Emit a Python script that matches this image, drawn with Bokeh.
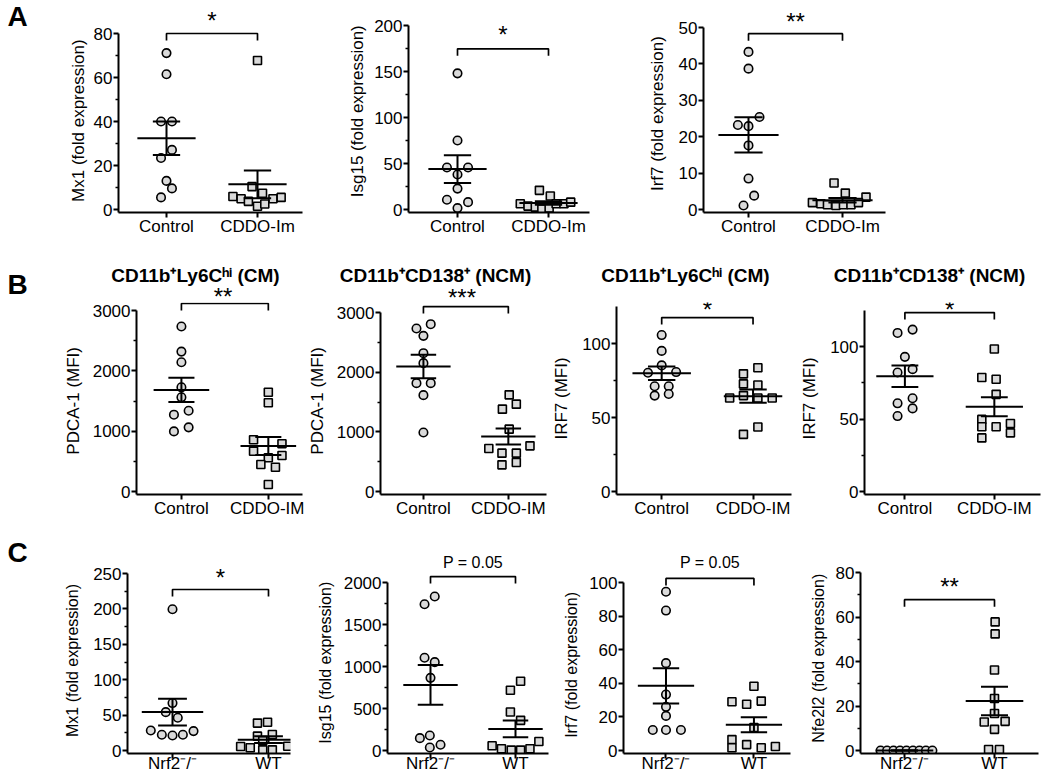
import numpy as np
from bokeh.plotting import figure
from bokeh.models import Range1d, FixedTicker, Label
from bokeh.layouts import column, row
from bokeh.embed import file_html
from bokeh.resources import INLINE

# ---------------- data ----------------
a_groups = ["Control", "CDDO-Im"]
b_groups = ["Control", "CDDO-IM"]
c_groups = ["Nrf2\u207b/\u207b", "WT"]

a_ylabels = ["Mx1 (fold expression)", "Isg15 (fold expression)", "Irf7 (fold expression)"]
b_ylabels = ["PDCA-1 (MFI)", "PDCA-1 (MFI)", "IRF7 (MFI)", "IRF7 (MFI)"]
c_ylabels = ["Mx1 (fold expression)", "Isg15 (fold expression)", "Irf7 (fold expression)",
             "Nfe2l2 (fold expression)"]
b_titles = ["CD11b\u207aLy6C\u02b0\u2071 (CM)", "CD11b\u207aCD138\u207a (NCM)",
            "CD11b\u207aLy6C\u02b0\u2071 (CM)", "CD11b\u207aCD138\u207a (NCM)"]
panel_letters = ["A", "B", "C"]

a_sig = ["*", "*", "**"]
b_sig = ["**", "***", "*", "*"]
c_sig = ["*", "P = 0.05", "P = 0.05", "**"]

# Panel A
a1_ctrl = [71.1, 61.5, 40.0, 40.0, 27.1, 23.4, 13.0, 9.6, 5.5]
a1_ctrl_dx = [0, 0, -0.06, 0.06, 0.06, -0.06, 0, 0.06, -0.06]
a1_trt = [67.7, 10.4, 7.4, 5.9, 4.9, 3.7, 4.9, 5.5, 1.5, 2.5]
a1_trt_dx = [0, -0.06, 0.055, -0.27, -0.18, -0.10, 0.17, 0.26, 0, 0.08]

a2_ctrl = [148, 75, 45.7, 45.7, 38, 22.7, 10.6, 8, 1.5]
a2_ctrl_dx = [0, 0, -0.116, 0.116, 0, 0, -0.116, 0.116, 0]
a2_trt = [20.8, 14.6, 6.2, 3.7, 2.6, 0.7, 1.5, 6.2, 6.2, 8.0]
a2_trt_dx = [-0.10, 0.02, -0.31, -0.225, -0.145, -0.073, 0.007, 0.084, 0.17, 0.244]

a3_ctrl = [43.3, 38.7, 25.4, 23.2, 22.9, 17.6, 8.5, 3.8, 1.1]
a3_ctrl_dx = [0, 0, 0.117, -0.113, 0, 0, 0, 0.06, -0.053]
a3_trt = [7.3, 4.5, 3.4, 1.9, 1.6, 1.3, 1.1, 1.3, 1.3, 1.9]
a3_trt_dx = [-0.09, 0.03, 0.25, -0.32, -0.23, -0.16, -0.07, 0.01, 0.09, 0.17]

# Panel B
b1_ctrl = [2734, 2319, 2142, 1727, 1561, 1273, 1339, 996, 1063]
b1_ctrl_dx = [0, 0, 0, 0, 0, -0.086, 0.083, -0.086, 0.083]
b1_trt = [1646, 1471, 857, 791, 668, 559, 597, 448, 403, 116]
b1_trt_dx = [0, 0, -0.17, 0.157, -0.17, 0, 0.157, -0.086, 0.082, 0]

b2_ctrl = [2804, 2732, 2609, 2318, 2151, 1816, 1816, 1615, 989]
b2_ctrl_dx = [0.086, -0.082, 0, 0, 0, -0.082, 0.086, 0, 0]
b2_trt = [1620, 1380, 1464, 1045, 721, 643, 643, 447, 486, 765]
b2_trt_dx = [0.01, -0.07, 0.094, 0.01, -0.23, -0.075, 0.094, -0.075, 0.094, 0.255]

b3_ctrl = [105.7, 95.0, 85.2, 80.2, 80.7, 71.1, 71.1, 64.8, 65.9]
b3_ctrl_dx = [0, 0, 0, -0.15, 0.158, -0.077, 0.077, -0.077, 0.077]
b3_trt = [83.6, 79.5, 72.7, 72.0, 63.2, 64.8, 63.2, 63.2, 43.6, 38.6]
b3_trt_dx = [0.053, -0.105, -0.105, 0.053, -0.256, -0.105, 0.053, 0.21, 0.053, -0.105]

b4_ctrl = [109.5, 111.8, 93.0, 82.2, 84.5, 60.9, 64.4, 52.1, 57.4]
b4_ctrl_dx = [-0.082, 0.086, 0, -0.082, 0.086, -0.082, 0.086, -0.082, 0.086]
b4_trt = [98.4, 78.7, 77.5, 67.1, 49.8, 44.7, 44.7, 47.0, 40.5, 37.0]
b4_trt_dx = [0, -0.14, 0.02, 0.02, -0.14, -0.14, 0.02, 0.18, 0.18, -0.14]

# Panel C
c1_ko = [199.5, 67, 54.2, 46.2, 28.3, 22.2, 21.2, 22.2, 27.4]
c1_ko_dx = [0, 0, -0.07, 0.055, -0.226, -0.111, 0, 0.108, 0.219]
c1_wt = [38.7, 40, 20.3, 22.6, 14, 5.7, 3.8, 0.9, 0.9, 6]
c1_wt_dx = [-0.115, -0.01, -0.115, 0.04, -0.06, -0.29, -0.19, -0.06, 0.04, 0.2]

c2_ko = [1833, 1741, 1104, 1052, 865, 147, 179, 36, 68]
c2_ko_dx = [0.05, -0.07, -0.07, 0.05, 0, -0.125, -0.008, -0.008, 0.118]
c2_wt = [825, 717, 458, 359, 56, 20, 5, 5, 20, 108]
c2_wt_dx = [0.06, -0.06, -0.06, 0.06, -0.275, -0.165, -0.05, 0.06, 0.17, 0.275]

c3_ko = [94.5, 83.3, 52.0, 33.3, 26.0, 20.6, 12.2, 12.2, 12.2]
c3_ko_dx = [0, 0, 0, 0, 0, 0, -0.15, 0, 0.17]
c3_wt = [38.2, 29.0, 27.5, 29.4, 13.7, 6.5, 1.6, 3.5, 1.6, 2.4]
c3_wt_dx = [0, -0.25, -0.083, 0.083, 0, -0.25, -0.25, -0.083, 0.083, 0.244]

c4_ko = [0, 0, 0, 0, 0, 0, 0, 0, 0]
c4_ko_dx = [-0.266, -0.194, -0.122, -0.05, 0.022, 0.094, 0.166, 0.238, 0.31]
c4_wt = [57.8, 52.4, 36.2, 23.4, 16.6, 12.8, 13.1, 9.5, 0.45, 0.45]
c4_wt_dx = [0.007, 0.007, 0, 0, 0, -0.114, 0.118, 0, -0.066, 0.055]

# y ticks
a1_ticks, a1_minor = [0, 20, 40, 60, 80], [10, 30, 50, 70]
a2_ticks, a2_minor = [0, 50, 100, 150, 200], [25, 75, 125, 175]
a3_ticks, a3_minor = [0, 10, 20, 30, 40, 50], []
b12_ticks, b12_minor = [0, 1000, 2000, 3000], [500, 1500, 2500]
b34_ticks, b34_minor = [0, 50, 100], [25, 75]
c1_ticks, c1_minor = [0, 50, 100, 150, 200, 250], [25, 75, 125, 175, 225]
c2_ticks, c2_minor = [0, 500, 1000, 1500, 2000], [250, 750, 1250, 1750]
c3_ticks, c3_minor = [0, 20, 40, 60, 80, 100], []
c4_ticks, c4_minor = [0, 20, 40, 60, 80], [10, 30, 50, 70]

# ---------------- styling / layout (page pixels, layout origin at 0,0) ----------------
FONT = "Liberation Sans"
FILL = "#dadada"
NB = "\u00a0"
PAD = 3
LETTER_W = 60
RIGHT = 1048
STAR_FS = 24
P_FS = 16
DROP = 0.4   # measured downward shift of alphabetic label text (fraction of font size)

ROW_A = dict(top=0, bottom=258, yz=209, xstand=-1)
BAND = dict(top=258, bottom=302)
ROW_B = dict(top=302, bottom=527, yz=491, xstand=-1)
ROW_C = dict(top=527, bottom=780, yz=750, xstand=-5)

panels = [
    dict(fig=(LETTER_W, 340), row=ROW_A, fl=118, fr=302, yt=33, ytop=80, cats=(166, 257),
         ctrl=(a1_ctrl, a1_ctrl_dx), trt=(a1_trt, a1_trt_dx), groups=a_groups, ticks=(a1_ticks, a1_minor),
         bar=80, sig=a_sig[0], star=16, ylab=a_ylabels[0], npad=6, ls=3, lfs=17),
    dict(fig=(340, 640), row=ROW_A, fl=408, fr=589, yt=25, ytop=200, cats=(457, 548),
         ctrl=(a2_ctrl, a2_ctrl_dx), trt=(a2_trt, a2_trt_dx), groups=a_groups, ticks=(a2_ticks, a2_minor),
         bar=174.7, sig=a_sig[1], star=30, ylab=a_ylabels[1], npad=2, ls=4, lfs=17),
    dict(fig=(640, RIGHT), row=ROW_A, fl=703, fr=885, yt=27, ytop=50, cats=(748, 842),
         ctrl=(a3_ctrl, a3_ctrl_dx), trt=(a3_trt, a3_trt_dx), groups=a_groups, ticks=(a3_ticks, a3_minor),
         bar=48.3, sig=a_sig[2], star=17, ylab=a_ylabels[2], npad=3, ls=9, lfs=17),

    dict(fig=(LETTER_W, 304), row=ROW_B, fl=132, fr=302, yt=310, ytop=3000, cats=(178, 267),
         ctrl=(b1_ctrl, b1_ctrl_dx), trt=(b1_trt, b1_trt_dx), groups=b_groups, ticks=(b12_ticks, b12_minor),
         bar=3116, sig=b_sig[0], star=292, in_band=True, ylab=b_ylabels[0], npad=1, ls=7, lfs=17, title=195),
    dict(fig=(304, 549), row=ROW_B, fl=372, fr=546, yt=312, ytop=3000, cats=(417, 506),
         ctrl=(b2_ctrl, b2_ctrl_dx), trt=(b2_trt, b2_trt_dx), groups=b_groups, ticks=(b12_ticks, b12_minor),
         bar=3100, sig=b_sig[1], star=293, in_band=True, ylab=b_ylabels[1], npad=1, ls=7, lfs=17, title=435),
    dict(fig=(549, 797), row=ROW_B, fl=609, fr=791, yt=306, ytop=125, cats=(656, 751),
         ctrl=(b3_ctrl, b3_ctrl_dx), trt=(b3_trt, b3_trt_dx), groups=b_groups, ticks=(b34_ticks, b34_minor),
         bar=117.5, sig=b_sig[2], star=305, ylab=b_ylabels[2], npad=0, ls=8, lfs=17, title=685),
    dict(fig=(797, RIGHT), row=ROW_B, fl=857, fr=1040, yt=310, ytop=125, cats=(899, 992),
         ctrl=(b4_ctrl, b4_ctrl_dx), trt=(b4_trt, b4_trt_dx), groups=b_groups, ticks=(b34_ticks, b34_minor),
         bar=123.6, sig=b_sig[3], star=305, ylab=b_ylabels[3], npad=0, ls=8, lfs=17, title=929),

    dict(fig=(LETTER_W, 310), row=ROW_C, fl=127, fr=290, yt=573, ytop=250, cats=(172, 268),
         ctrl=(c1_ko, c1_ko_dx), trt=(c1_wt, c1_wt_dx), groups=c_groups, ticks=(c1_ticks, c1_minor),
         bar=227.4, sig=c_sig[0], star=573, ylab=c_ylabels[0], npad=9, ls=9, lfs=16),
    dict(fig=(310, 560), row=ROW_C, fl=387, fr=548, yt=582, ytop=2000, cats=(430, 515),
         ctrl=(c2_ko, c2_ko_dx), trt=(c2_wt, c2_wt_dx), groups=c_groups, ticks=(c2_ticks, c2_minor),
         bar=2071, sig=c_sig[1], star=563, ylab=c_ylabels[1], npad=10, ls=7, lfs=16),
    dict(fig=(560, 806), row=ROW_C, fl=621, fr=790, yt=582, ytop=100, cats=(664, 753),
         ctrl=(c3_ko, c3_ko_dx), trt=(c3_wt, c3_wt_dx), groups=c_groups, ticks=(c3_ticks, c3_minor),
         bar=102.4, sig=c_sig[2], star=563, ylab=c_ylabels[2], npad=11, ls=6, lfs=16),
    dict(fig=(806, RIGHT), row=ROW_C, fl=860, fr=1038, yt=572, ytop=80, cats=(904, 994),
         ctrl=(c4_ko, c4_ko_dx), trt=(c4_wt, c4_wt_dx), groups=c_groups, ticks=(c4_ticks, c4_minor),
         bar=67.8, sig=c_sig[3], star=582, ylab=c_ylabels[3], npad=8, ls=6, lfs=16),
]


def star_baseline(cfg):
    """Pixel baseline (already compensated) for the significance text whose centre is cfg['star']."""
    is_p = cfg["sig"].startswith("P")
    fs = P_FS if is_p else STAR_FS
    centre_to_base = 0.36 * fs if is_p else 0.57 * fs
    return cfg["star"] + centre_to_base - DROP * fs, fs


def bare_fig(width, height, bottom_border, x_range, y_range):
    p = figure(width=width, height=height, x_range=x_range, y_range=y_range,
               output_backend="svg", toolbar_location=None, title=None,
               x_axis_location=None, y_axis_location=None,
               min_border_left=0, min_border_right=0, min_border_top=0,
               min_border_bottom=bottom_border)
    p.outline_line_color = None
    p.grid.visible = False
    p.xgrid.visible = False
    p.ygrid.visible = False
    p.background_fill_color = "white"
    p.border_fill_color = "white"
    return p


def build(cfg):
    fig_l, fig_r = cfg["fig"]
    rw = cfg["row"]
    row_t, row_b, yz = rw["top"], rw["bottom"], rw["yz"]
    fl, fr = cfg["fl"], cfg["fr"]
    yt, ytop = cfg["yt"], cfg["ytop"]
    c1, c2 = cfg["cats"]
    fb = yz + PAD
    ft = row_t
    s = float(c2 - c1)
    k = ytop / float(yz - yt)
    x0 = 1 - (c1 - fl) / s
    x1 = 2 + (fr - c2) / s
    y0 = -(fb - yz) * k
    y1 = ytop + (yt - ft) * k

    p = figure(width=fig_r - fig_l, height=row_b - row_t,
               x_range=Range1d(x0, x1), y_range=Range1d(y0, y1),
               output_backend="svg", toolbar_location=None, title=None,
               min_border_left=fl - fig_l, min_border_right=fig_r - fr,
               min_border_top=0, min_border_bottom=row_b - fb)
    p.outline_line_color = None
    p.grid.visible = False
    p.background_fill_color = "white"
    p.border_fill_color = "white"

    xa, ya = p.xaxis[0], p.yaxis[0]
    for ax in (xa, ya):
        ax.axis_line_color = "black"
        ax.axis_line_width = 2
        ax.major_tick_line_color = "black"
        ax.major_tick_line_width = 2
        ax.major_tick_in = 0
        ax.minor_tick_in = 0
        ax.major_label_text_font = FONT
        ax.major_label_text_font_size = "17px"
        ax.major_label_text_color = "black"
    xa.ticker = FixedTicker(ticks=[1, 2])
    xa.major_tick_out = 5
    xa.minor_tick_line_color = None
    xa.major_label_overrides = {1: cfg["groups"][0], 2: cfg["groups"][1]}
    xa.major_label_standoff = rw["xstand"]

    ya.ticker = FixedTicker(ticks=cfg["ticks"][0], minor_ticks=cfg["ticks"][1])
    ya.bounds = (y0, ytop)
    ya.major_tick_out = 5
    ya.minor_tick_out = 3
    ya.minor_tick_line_color = "black"
    ya.minor_tick_line_width = 1.5
    ya.major_label_standoff = 1
    ya.axis_label = cfg["ylab"] + NB * cfg["npad"]
    ya.axis_label_text_font = FONT
    ya.axis_label_text_font_style = "normal"
    ya.axis_label_text_font_size = f"{cfg['lfs']}px"
    ya.axis_label_text_color = "black"
    ya.axis_label_standoff = cfg["ls"]

    # points + mean +/- SEM
    for cx, (vals, dx), marker, size in ((1, cfg["ctrl"], "circle", 8.5), (2, cfg["trt"], "square", 8)):
        vals = np.asarray(vals, dtype=float)
        xs = cx + np.asarray(dx, dtype=float)
        p.scatter(xs, vals, marker=marker, size=size, fill_color=FILL,
                  line_color="black", line_width=1.6)
        m = vals.mean()
        se = vals.std(ddof=1) / np.sqrt(len(vals))
        p.segment(x0=[cx - 0.32, cx - 0.15, cx - 0.15, cx],
                  y0=[m, m + se, m - se, m - se],
                  x1=[cx + 0.32, cx + 0.15, cx + 0.15, cx],
                  y1=[m, m + se, m - se, m + se],
                  line_color="black", line_width=2)

    # significance bracket
    bar = cfg["bar"]
    leg = 7 * k
    p.line([1, 1, 2, 2], [bar - leg, bar, bar, bar - leg], line_color="black", line_width=1.7)
    if not cfg.get("in_band"):
        base, fs = star_baseline(cfg)
        p.add_layout(Label(x=1.5, y=(yz - base) * k, text=cfg["sig"], text_align="center",
                           text_baseline="alphabetic", text_font=FONT,
                           text_font_size=f"{fs}px", text_color="black"))
    return p


def letter_fig(letter, rw, baseline):
    h = rw["bottom"] - rw["top"]
    fb = rw["yz"] + PAD
    fh = fb - rw["top"]
    p = bare_fig(LETTER_W, h, rw["bottom"] - fb, Range1d(0, LETTER_W), Range1d(0, fh))
    if letter:
        p.add_layout(Label(x=7, y=fb - (baseline - DROP * 28), text=letter, text_align="left",
                           text_baseline="alphabetic", text_font=FONT, text_font_style="bold",
                           text_font_size="28px", text_color="black"))
    return p


def band_fig():
    w = RIGHT
    h = BAND["bottom"] - BAND["top"]
    p = bare_fig(w, h, 0, Range1d(0, w), Range1d(0, h))

    def Y(py):
        return BAND["bottom"] - py

    p.add_layout(Label(x=7, y=Y(295.5 - DROP * 28), text=panel_letters[1], text_align="left",
                       text_baseline="alphabetic", text_font=FONT, text_font_style="bold",
                       text_font_size="28px", text_color="black"))
    for cfg, t in zip(panels[3:7], b_titles):
        p.add_layout(Label(x=cfg["title"], y=Y(283 - DROP * 19), text=t, text_align="center",
                           text_baseline="alphabetic", text_font=FONT, text_font_style="bold",
                           text_font_size="19px", text_color="black"))
        if cfg.get("in_band"):
            c1, c2 = cfg["cats"]
            base, fs = star_baseline(cfg)
            p.add_layout(Label(x=(c1 + c2) / 2.0, y=Y(base), text=cfg["sig"], text_align="center",
                               text_baseline="alphabetic", text_font=FONT,
                               text_font_size=f"{fs}px", text_color="black"))
    return p


figs = [build(c) for c in panels]

layout = column(
    row(letter_fig(panel_letters[0], ROW_A, 27), *figs[0:3], spacing=0),
    band_fig(),
    row(letter_fig(None, ROW_B, 0), *figs[3:7], spacing=0),
    row(letter_fig(panel_letters[2], ROW_C, 563), *figs[7:11], spacing=0),
    spacing=0)

open("out.html", "w").write(file_html(layout, INLINE, title="Figure"))
